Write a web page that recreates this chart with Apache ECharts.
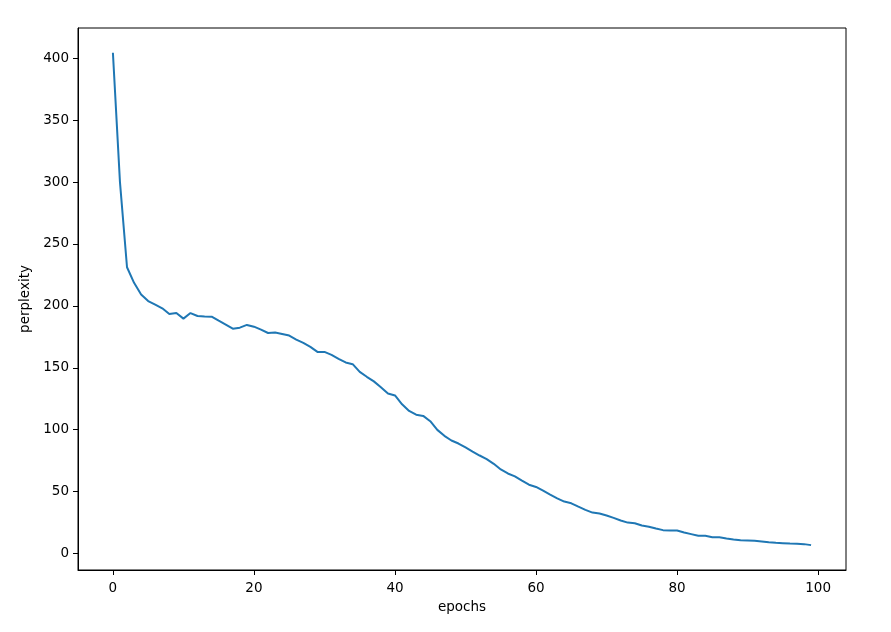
<!DOCTYPE html>
<html>
<head>
<meta charset="utf-8">
<script src="https://cdn.jsdelivr.net/npm/echarts@6/dist/echarts.min.js"></script>
<style>html,body{margin:0;padding:0;background:#fff}#c{width:891px;height:632px}</style>
</head>
<body>
<div id="c"></div>
<script>
const epochs = Array.from({length: 100}, (_, i) => i);
const perplexity = [
  404.5, 300, 231.2, 218.6, 209.2, 203.9, 201, 198, 193.4, 194.2,
  189.7, 194.2, 191.8, 191.5, 191.3, 188, 184.9, 181.6, 182.4, 184.6,
  183.2, 180.8, 178.1, 178.4, 177.3, 176, 172.8, 170.1, 166.9, 162.8,
  162.8, 160.4, 157.2, 154.3, 152.9, 146.7, 142.7, 139, 134.2, 129.2,
  127.6, 120.5, 115.1, 112.1, 111.1, 106.8, 99.8, 95, 91.2, 88.8,
  85.6, 82.3, 79.1, 76.2, 72.4, 67.8, 64.6, 62.2, 58.8, 55.5,
  53.7, 50.7, 47.5, 44.5, 41.9, 40.5, 37.8, 35.2, 33, 32.2,
  30.6, 28.7, 26.6, 24.9, 24.4, 22.5, 21.5, 20.1, 18.8, 18.6,
  18.5, 16.9, 15.6, 14.2, 14.2, 13.1, 13.1, 12.1, 11.3, 10.7,
  10.5, 10.2, 9.7, 9.1, 8.6, 8.3, 8, 7.8, 7.5, 6.7
];
const xTicks = [0, 20, 40, 60, 80, 100];
const yTicks = [0, 50, 100, 150, 200, 250, 300, 350, 400];
const xLabel = 'epochs';
const yLabel = 'perplexity';

const chart = echarts.init(document.getElementById('c'), null, {renderer: 'canvas'});
const font = 'DejaVu Sans';
chart.setOption({
  animation: false,
  backgroundColor: '#fff',
  grid: {left: 78, right: 45, top: 28, bottom: 62, show: true, borderColor: '#000', borderWidth: 1, backgroundColor: 'transparent'},
  xAxis: {
    type: 'value', min: -4.95, max: 103.95,
    name: xLabel, nameLocation: 'middle', nameGap: 30,
    nameTextStyle: {fontFamily: font, fontSize: 13.5, color: '#000'},
    axisLine: {show: true, onZero: false, lineStyle: {color: '#000', width: 1}},
    axisTick: {show: true, length: 5, inside: false, customValues: xTicks, lineStyle: {color: '#000'}},
    axisLabel: {customValues: xTicks, fontFamily: font, fontSize: 13.5, color: '#000', margin: 11},
    splitLine: {show: false}
  },
  yAxis: {
    type: 'value', min: -13.4, max: 424.5,
    name: yLabel, nameLocation: 'middle', nameGap: 36, nameRotate: 90,
    nameTextStyle: {fontFamily: font, fontSize: 13.5, color: '#000'},
    axisLine: {show: true, onZero: false, lineStyle: {color: '#000', width: 1}},
    axisTick: {show: true, length: 5, inside: false, customValues: yTicks, lineStyle: {color: '#000'}},
    axisLabel: {customValues: yTicks, fontFamily: font, fontSize: 13.5, color: '#000', margin: 9},
    splitLine: {show: false}
  },
  series: [{
    type: 'line',
    data: epochs.map((e, i) => [e, perplexity[i]]),
    showSymbol: false,
    lineStyle: {color: '#1f77b4', width: 2},
    itemStyle: {color: '#1f77b4'}
  }]
});
</script>
</body>
</html>
